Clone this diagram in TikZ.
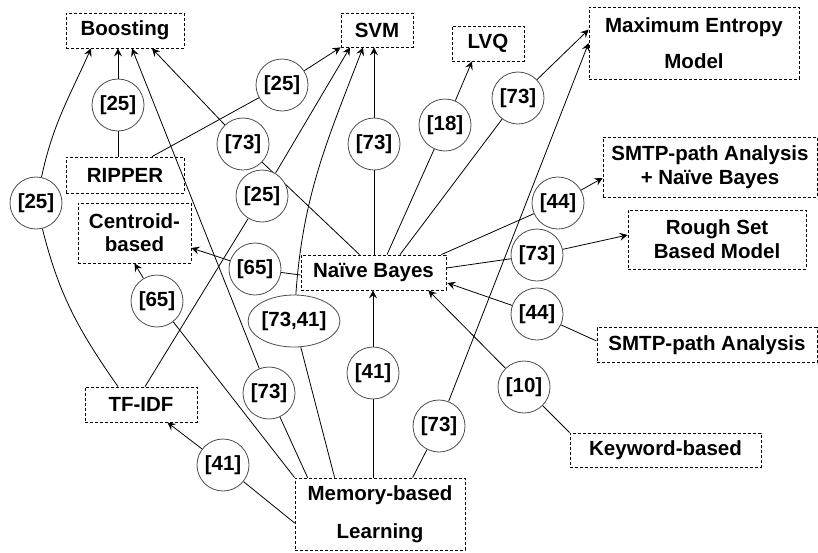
\documentclass[tikz,border=0pt]{standalone}
\usepackage{fontspec}
\setmainfont{Liberation Sans}
\usetikzlibrary{calc,arrows.meta,shapes.geometric,backgrounds}
\begin{document}
\begin{tikzpicture}[x=1pt,y=1pt,
  font=\fontsize{20.5}{24}\selectfont\bfseries,
  box/.style={draw, dashed, dash pattern=on 3pt off 2pt, line width=0.8pt, inner sep=0pt, align=center},
  ref/.style={circle, draw=black!70, line width=0.8pt, fill=white, minimum size=52pt, inner sep=0pt},
  conn/.style={line width=0.8pt},
  arr/.style={conn, -{Stealth[length=8pt,width=8pt,inset=3pt]}}]
\useasboundingbox (0,0) rectangle (818,-552);
% boxes
\node[box, minimum width=118, minimum height=35] (boost) at (125,-30.5) {Boosting};
\node[box, minimum width=72, minimum height=34] (svm) at (377,-30) {SVM};
\node[box, minimum width=72, minimum height=35] (lvq) at (488,-43.5) {LVQ};
\node[box, minimum width=210, minimum height=72] (maxent) at (694,-43) {Maximum Entropy\\[12pt]Model};
\node[box, minimum width=214, minimum height=60] (smtpnb) at (710,-167) {SMTP-path Analysis\\+ Naïve Bayes};
\node[box, minimum width=178, minimum height=59] (rough) at (717,-239.5) {Rough Set\\Based Model};
\node[box, minimum width=113, minimum height=60] (centroid) at (134.5,-233) {Centroid-\\[-1pt]based};
\node[box, minimum width=118, minimum height=36] (ripper) at (125,-175) {RIPPER};
\node[box, minimum width=145, minimum height=35] (nb) at (373.5,-272.5) {Naïve Bayes};
\node[box, minimum width=220, minimum height=35] (smtp) at (707,-345) {SMTP-path Analysis};
\node[box, minimum width=191, minimum height=34] (keyword) at (665.5,-450) {Keyword-based};
\node[box, minimum width=112, minimum height=35] (tfidf) at (141,-404.5) {TF-IDF};
\node[box, minimum width=170, minimum height=72] (mem) at (380,-514) {Memory-based\\[14pt]Learning};
% reference circles
\node[ref] (c1) at (118,-105) {[25]};
\node[ref] (c2) at (282,-85) {[25]};
\node[ref] (c3) at (243,-144) {[73]};
\node[ref] (c4) at (374,-144) {[73]};
\node[ref] (c5) at (36,-203) {[25]};
\node[ref] (c6) at (262,-196) {[25]};
\node[ref] (c7) at (255,-269) {[65]};
\node[ref, ellipse, minimum width=79pt, minimum height=52pt] (c8) at (294,-321) {[73,41]};
\node[ref] (c9) at (373,-373) {[41]};
\node[ref] (c10) at (439,-426) {[73]};
\node[ref] (c11) at (269,-393) {[73]};
\node[ref] (c12) at (223,-465) {[41]};
\node[ref] (c13) at (157,-301) {[65]};
\node[ref] (c14) at (445,-125) {[18]};
\node[ref] (c15) at (518,-98) {[73]};
\node[ref] (c16) at (558,-203) {[44]};
\node[ref] (c17) at (537,-255) {[73]};
\node[ref] (c18) at (537,-314) {[44]};
\node[ref] (c19) at (524,-387) {[10]};
% connectors
\begin{scope}[on background layer]
\draw[conn] (c1) -- (c1 |- ripper.north);
\draw[arr] (c1) -- (c1 |- boost.south);
\draw[conn] (c2) -- ($(ripper.north)+(27,0)$);
\draw[arr] (c2) -- (svm.south west);
\draw[conn] (c3) -- ($(nb.north)+(-14,0)$);
\draw[arr] (c3) -- ($(boost.south)+(27,0)$);
\draw[conn] (c4) -- (c4 |- nb.north);
\draw[arr] (c4) -- (c4 |- svm.south);
\draw[conn] (c5) to[out=-76,in=125] ($(tfidf.north)+(-23,0)$);
\draw[arr] (c5) to[out=78,in=-114] ($(boost.south)+(-34,0)$);
\draw[conn] (c6) -- ($(tfidf.north)+(4,0)$);
\draw[arr] (c6) -- ($(svm.south)+(-27,0)$);
\draw[conn] (c11) -- ($(mem.north west)+(13,0)$);
\draw[arr] (c11) -- ($(boost.south)+(7,0)$);
\draw[conn] (c8) -- ($(mem.north west)+(40,0)$);
\draw[arr] (c8) to[out=86,in=-111] ($(svm.south)+(-14,0)$);
\draw[conn] (c9) -- (c9 |- mem.north);
\draw[arr] (c9) -- (c9 |- nb.south);
\draw[conn] (c10) -- ($(mem.north west)+(118,0)$);
\draw[arr] (c10) -- (maxent.west);
\draw[conn] (c13) -- (mem.north west);
\draw[arr] (c13) -- (centroid.south);
\draw[conn] (c12) -- ($(mem.west)+(0,-9)$);
\draw[arr] (c12) -- ($(tfidf.south east)+(-30,0)$);
\draw[conn] (c7) -- ($(nb.west)+(0,-2.5)$);
\draw[arr] (c7) -- ($(centroid.east)+(0,-15)$);
\draw[conn] (c14) -- ($(nb.north)+(13.5,0)$);
\draw[arr] (c14) -- ($(lvq.south)+(-16,0)$);
\draw[conn] (c15) -- ($(nb.north)+(26.5,0)$);
\draw[arr] (c15) -- ($(maxent.north west)+(0,-23)$);
\draw[conn] (c16) -- ($(nb.north east)+(-5,0)$);
\draw[arr] (c16) -- ($(smtpnb.west)+(0,-11)$);
\draw[conn] (c17) -- ($(nb.east)+(0,4.5)$);
\draw[arr] (c17) -- ($(rough.west)+(0,4.5)$);
\draw[conn] (c18) -- ($(smtp.west)+(0,4)$);
\draw[arr] (c18) -- ($(nb.east)+(1,-10.5)$);
\draw[conn] (c19) -- (keyword.north west);
\draw[arr] (c19) -- ($(nb.south east)+(-18,0)$);
\end{scope}
\end{tikzpicture}
\end{document}
